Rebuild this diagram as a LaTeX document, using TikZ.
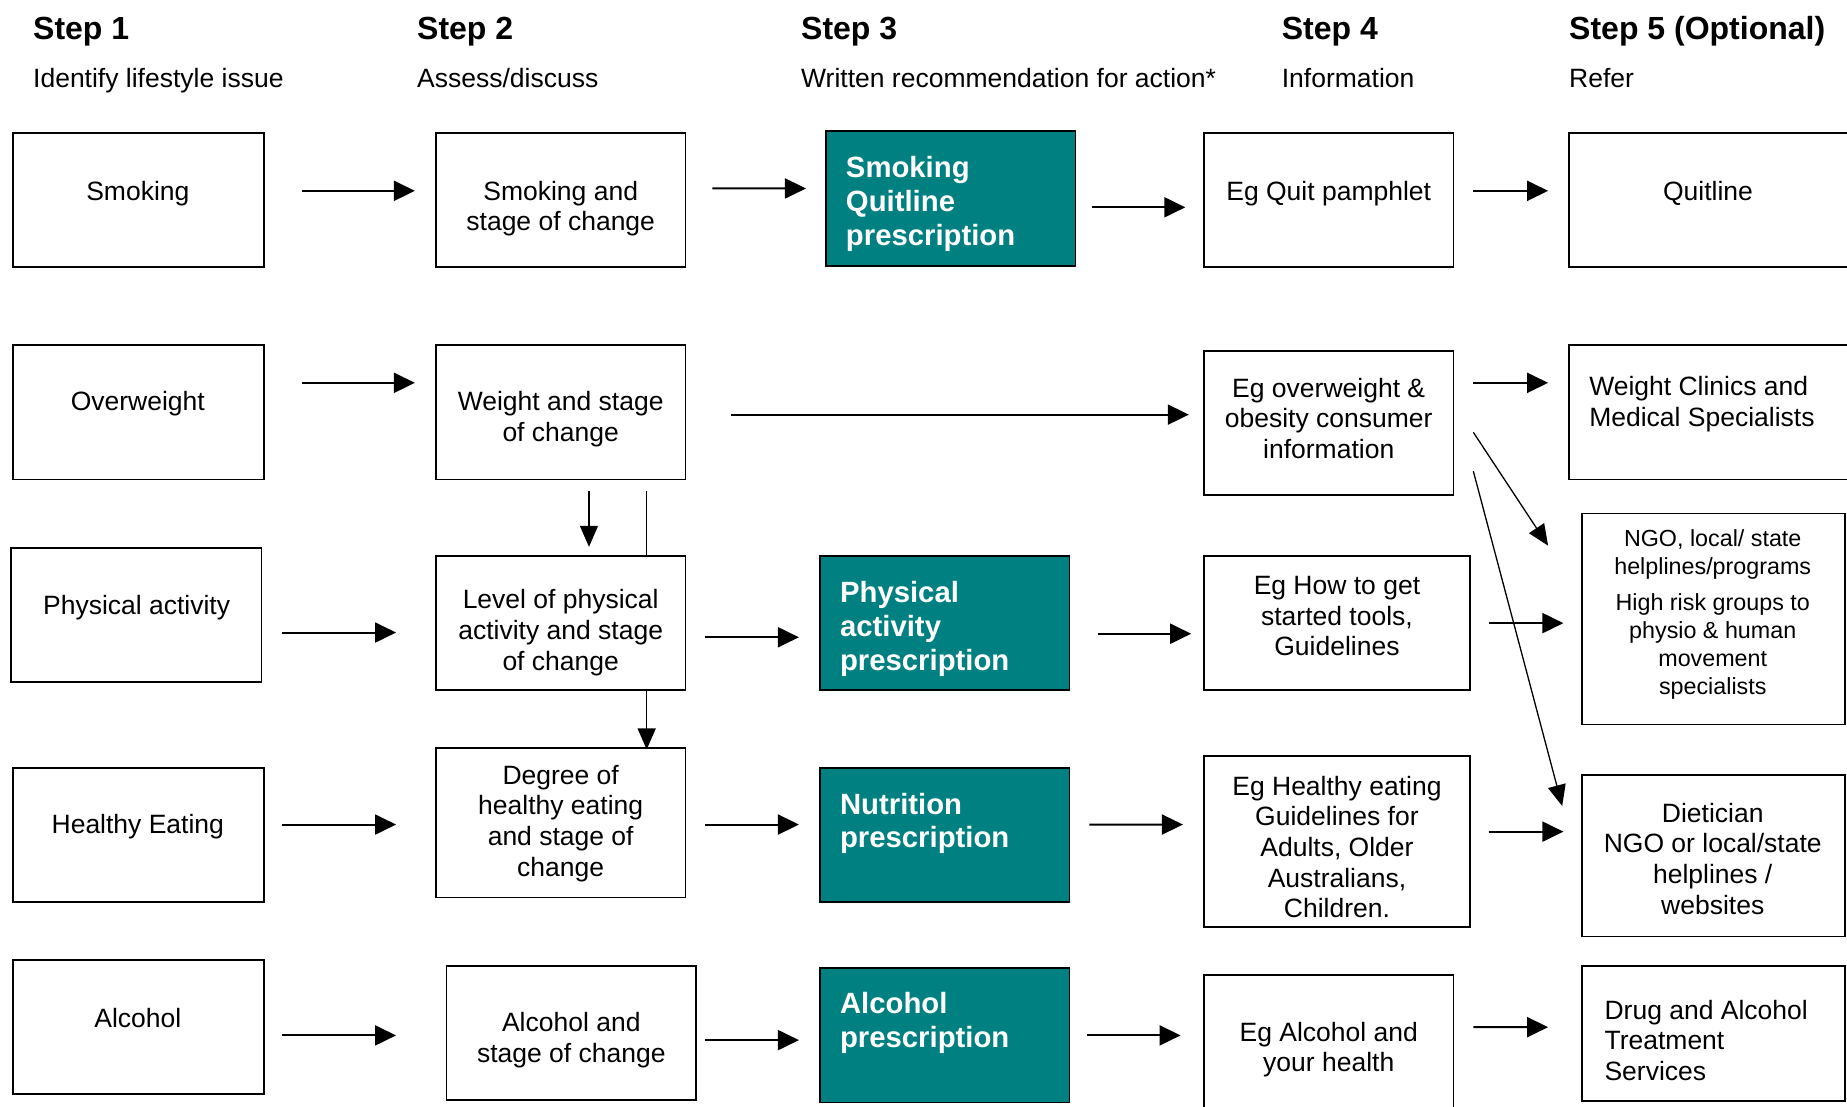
\documentclass[tikz,border=0pt]{standalone}
\usepackage{fontspec}
\setmainfont{Liberation Sans}
\usetikzlibrary{arrows.meta,fit,calc}
\definecolor{tealbox}{RGB}{0,128,128}
\tikzset{
 box/.style={draw=black, line width=1.8pt, inner sep=0pt},
 rxbox/.style={box, fill=tealbox},
 txt/.style={font=\fontsize{26.5}{30.6}\selectfont, align=center, inner sep=0pt, yshift=-2.4pt},
 ltxt/.style={txt, align=left, anchor=west},
 smtxt/.style={font=\fontsize{23.3}{28}\selectfont, align=center, inner sep=0pt, yshift=-2.4pt},
 rxtxt/.style={font=\bfseries\fontsize{29.3}{33.8}\selectfont, text=white, align=left, anchor=west, inner sep=0pt, yshift=-2.4pt},
 head/.style={font=\bfseries\fontsize{32}{36}\selectfont, anchor=base west, inner sep=0pt},
 sub/.style={font=\fontsize{26.5}{30.6}\selectfont, anchor=base west, inner sep=0pt},
 arr/.style={line width=2pt, -{Triangle[length=21pt,width=20pt]}},
 thinarr/.style={line width=1.3pt, -{Triangle[length=21pt,width=18pt]}},
 thinline/.style={line width=1.3pt},
}
\begin{document}
\begin{tikzpicture}[x=1.178pt, y=-1.178pt]
\useasboundingbox[fill=white] (0,0) rectangle (1568,939);

% headers
\node[head] (h1t) at (28,33.5) {Step 1};
\node[head] (h2t) at (354,33.5) {Step 2};
\node[head] (h3t) at (680,33.5) {Step 3};
\node[head] (h4t) at (1088,33.5) {Step 4};
\node[head] (h5t) at (1332,33.5) {Step 5 (Optional)};
\node[sub] (u1t) at (28,74) {Identify lifestyle issue};
\node[sub] (u2t) at (354,74) {Assess/discuss};
\node[sub] (u3t) at (680,74) {Written recommendation for action*};
\node[sub] (u4t) at (1088,74) {Information};
\node[sub] (u5t) at (1332,74) {Refer};

% row 1 boxes
\node[box, fit={(11,113) (224,227)}] (s1) {};
\node[box, fit={(370,113) (582,227)}] (s2) {};
\node[rxbox, fit={(701,111) (913,226)}] (s3) {};
\node[box, fit={(1022,113) (1234,227)}] (s4) {};
\node[box, fit={(1332,113) (1590,227)}] (s5) {};
% row 2
\node[box, fit={(11,293) (224,407)}] (o1) {};
\node[box, fit={(370,293) (582,407)}] (o2) {};
\node[box, fit={(1022,298) (1234,420)}] (o4) {};
\node[box, fit={(1332,293) (1590,407)}] (o5) {};
% row 3
\node[box, fit={(9,465) (222,579)}] (p1) {};
\node[box, fit={(370,472) (582,586)}] (p2) {};
\node[rxbox, fit={(696,472) (908,586)}] (p3) {};
\node[box, fit={(1022,472) (1248,586)}] (p4) {};
\node[box, fit={(1343,436) (1566,615)}] (p5) {};
% row 4
\node[box, fit={(11,652) (224,766)}] (e1) {};
\node[box, fit={(370,635) (582,762)}] (e2) {};
\node[rxbox, fit={(696,652) (908,766)}] (e3) {};
\node[box, fit={(1022,642) (1248,787)}] (e4) {};
\node[box, fit={(1343,658) (1566,795)}] (e5) {};
% row 5
\node[box, fit={(11,815) (224,929)}] (a1) {};
\node[box, fit={(379,820) (591,934)}] (a2) {};
\node[rxbox, fit={(696,822) (908,936)}] (a3) {};
\node[box, fit={(1022,828) (1234,970)}] (a4) {};
\node[box, fit={(1343,820) (1566,935)}] (a5) {};

% texts row 1
\node[txt] (s1t) at (117,162) {Smoking};
\node[txt] (s2t) at (476,175) {Smoking and\\stage of change};
\node[rxtxt] (s3t) at (718,171) {Smoking\\Quitline\\prescription};
\node[txt] (s4t) at (1128,162) {Eg Quit pamphlet};
\node[txt] (s5t) at (1450,162) {Quitline};
% row 2
\node[txt] (o1t) at (117,341) {Overweight};
\node[txt] (o2t) at (476,354) {Weight and stage\\of change};
\node[txt] (o4t) at (1128,353) {Eg overweight \&\\obesity consumer\\information};
\node[ltxt] (o5t) at (1349,341) {Weight Clinics and\\Medical Specialists};
% row 3
\node[txt] (p1t) at (116,514) {Physical activity};
\node[txt] (p2t) at (476,535) {Level of physical\\activity and stage\\of change};
\node[rxtxt] (p3t) at (713,532) {Physical\\activity\\prescription};
\node[txt] (p4t) at (1135,521) {Eg How to get\\started tools,\\Guidelines};
\node[smtxt] (p5t) at (1454,469) {NGO, local/ state\\helplines/programs};
\node[smtxt] (p5u) at (1454,546.5) {High risk groups to\\physio \& human\\movement\\specialists};
% row 4
\node[txt] (e1t) at (117,700) {Healthy Eating};
\node[txt] (e2t) at (476,697) {Degree of\\healthy eating\\and stage of\\change};
\node[rxtxt] (e3t) at (713,697) {Nutrition\\prescription};
\node[txt] (e4t) at (1135,717) {Eg Healthy eating\\Guidelines for\\Adults, Older\\Australians,\\Children.};
\node[txt] (e5t) at (1454,727) {Dietician\\NGO or local/state\\helplines /\\websites};
% row 5
\node[txt] (a1t) at (117,862) {Alcohol};
\node[txt] (a2t) at (485,881) {Alcohol and\\stage of change};
\node[rxtxt] (a3t) at (713,866.5) {Alcohol\\prescription};
\node[txt] (a4t) at (1128,889) {Eg Alcohol and\\your health};
\node[ltxt] (a5t) at (1362,881) {Drug and Alcohol\\Treatment\\Services};

% connectors row 1
\draw[arr] ([shift={(32,-8)}]s1.east) -- ([shift={(-17,-8)}]s2.west);
\draw[arr] ([shift={(22,-10)}]s2.east) -- ([shift={(-16,-8.5)}]s3.west);
\draw[arr] ([shift={(13,7.5)}]s3.east) -- ([shift={(-15,6)}]s4.west);
\draw[arr] ([shift={(16,-8)}]s4.east) -- ([shift={(-17,-8)}]s5.west);
% row 2
\draw[arr] ([shift={(32,-25)}]o1.east) -- ([shift={(-17,-25)}]o2.west);
\draw[arr] ([shift={(38,2)}]o2.east) -- ([shift={(-12,-7)}]o4.west);
\draw[arr] ([shift={(16,-34)}]o4.east) -- ([shift={(-17,-25)}]o5.west);
\draw[thinarr] ([shift={(16,8)}]o4.east) -- ([shift={(-28,28)}]p5.north west);
\draw[thinarr] ([shift={(16,41)}]o4.east) -- ([shift={(-16,27)}]e5.north west);
% verticals
\draw[thinarr] ([shift={(24,9)}]o2.south) -- ([shift={(24,-7)}]p2.north);
\draw[thinline] ([shift={(73,9)}]o2.south) -- ([shift={(73,0)}]p2.north);
\draw[thinarr] ([shift={(73,0)}]p2.south) -- ([shift={(73,2)}]e2.north);
% row 3
\draw[arr] ([shift={(17,15)}]p1.east) -- ([shift={(-33,8)}]p2.west);
\draw[arr] ([shift={(16,12)}]p2.east) -- ([shift={(-17,12)}]p3.west);
\draw[arr] ([shift={(23,9)}]p3.east) -- ([shift={(-10,9)}]p4.west);
\draw[arr] ([shift={(15,0)}]p4.east) -- ([shift={(-15,3.5)}]p5.west);
% row 4
\draw[arr] ([shift={(15,-9)}]e1.east) -- ([shift={(-33,1.5)}]e2.west);
\draw[arr] ([shift={(16,1.5)}]e2.east) -- ([shift={(-17,-9)}]e3.west);
\draw[arr] ([shift={(16,-9)}]e3.east) -- ([shift={(-17,-14.5)}]e4.west);
\draw[arr] ([shift={(15,-8.5)}]e4.east) -- ([shift={(-15,-20.5)}]e5.west);
% row 5
\draw[arr] ([shift={(15,7)}]a1.east) -- ([shift={(-42,2)}]a2.west);
\draw[arr] ([shift={(7,6)}]a2.east) -- ([shift={(-17,4)}]a3.west);
\draw[arr] ([shift={(14,0)}]a3.east) -- ([shift={(-19,-20)}]a4.west);
\draw[arr] ([shift={(16,-27)}]a4.east) -- ([shift={(-28,-5.5)}]a5.west);
\end{tikzpicture}
\end{document}
